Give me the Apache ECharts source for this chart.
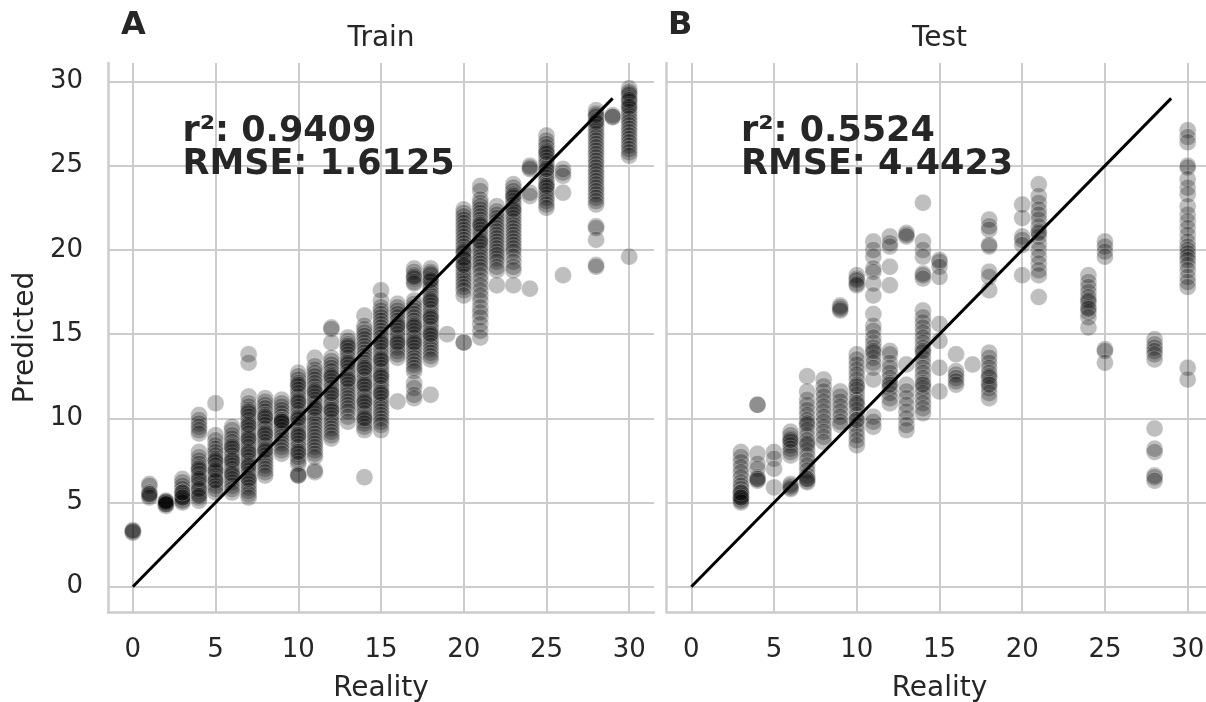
<!DOCTYPE html>
<html>
<head>
<meta charset="utf-8">
<script src="https://cdn.jsdelivr.net/npm/echarts@6/dist/echarts.min.js"></script>
<style>
html, body { margin: 0; padding: 0; background: #fff; }
#chart { width: 1206px; height: 702px; }
</style>
</head>
<body>
<div id="chart"></div>
<script>
// reality values (x) and the predicted values (y)
var trainX = [0, 1, 2, 3, 4, 5, 6, 7, 8, 9, 10, 11, 12, 13, 14, 15, 16, 17, 18, 19, 20, 21, 22, 23, 24, 25, 26, 28, 29, 30];
var trainY = [
  [3.2, 3.25, 3.3, 3.35],
  [6.1, 6.0, 5.6, 5.5, 5.4, 5.3, 5.5],
  [4.8, 4.85, 4.9, 4.9, 4.95, 5.0, 5.0, 5.05, 5.1, 4.9],
  [6.4, 6.2, 6.0, 5.8, 5.6, 5.5, 5.4, 5.3, 5.2, 5.1, 5.0, 5.3, 5.6],
  [10.2, 9.9, 9.7, 9.5, 9.3, 9.1, 8.0, 7.7, 7.5, 7.3, 7.1, 6.9, 6.7, 6.5, 6.3, 6.1, 5.9, 5.7, 5.5, 5.3, 5.1, 7.0, 6.4, 5.8, 5.4],
  [10.9, 9.0, 8.7, 8.4, 8.2, 8.0, 7.8, 7.6, 7.4, 7.2, 7.0, 6.8, 6.6, 6.4, 6.2, 6.0, 5.8, 5.6, 7.5, 6.9, 6.3],
  [9.5, 9.3, 9.0, 8.8, 8.6, 8.4, 8.2, 8.0, 7.8, 7.6, 7.4, 7.2, 7.0, 6.8, 6.6, 6.4, 6.2, 6.0, 5.8, 5.6, 8.3, 7.5, 6.7],
  [13.8, 13.3, 11.3, 10.9, 10.7, 10.5, 10.3, 10.1, 9.9, 9.7, 9.5, 9.3, 9.1, 8.9, 8.7, 8.5, 8.3, 8.1, 7.9, 7.7, 7.5, 7.3, 7.1, 6.9, 6.7, 6.5, 6.3, 6.1, 5.9, 5.7, 5.5, 5.3, 10.4, 9.6, 8.8, 8.0, 7.2, 6.4],
  [11.2, 11.0, 10.8, 10.6, 10.4, 10.2, 10.0, 9.8, 9.6, 9.4, 9.2, 9.0, 8.8, 8.6, 8.4, 8.2, 8.0, 7.8, 7.6, 7.4, 7.2, 7.0, 6.8, 6.6, 10.1, 9.1, 8.1],
  [11.1, 10.9, 10.7, 10.5, 10.3, 10.1, 9.9, 9.8, 9.7, 9.5, 9.3, 9.1, 8.9, 8.7, 8.5, 8.3, 8.1, 7.9, 9.9, 9.8],
  [12.7, 12.5, 12.3, 12.1, 11.9, 11.7, 11.5, 11.3, 11.1, 10.9, 10.7, 10.5, 10.3, 10.1, 9.9, 9.7, 9.5, 9.3, 9.1, 8.9, 8.7, 8.5, 8.3, 8.1, 7.9, 7.7, 7.5, 7.3, 6.7, 6.6, 6.6, 12.0, 11.0, 10.0, 9.0, 8.0],
  [13.6, 13.1, 12.9, 12.7, 12.5, 12.3, 12.1, 11.9, 11.7, 11.5, 11.3, 11.1, 10.9, 10.7, 10.5, 10.3, 10.1, 9.9, 9.7, 9.5, 9.3, 9.1, 8.9, 8.7, 8.5, 8.3, 8.1, 7.9, 7.7, 6.8, 6.9, 11.6, 10.6],
  [15.4, 15.3, 14.5, 13.6, 13.4, 13.2, 13.0, 12.8, 12.6, 12.4, 12.2, 12.0, 11.8, 11.6, 11.4, 11.2, 11.0, 10.8, 10.6, 10.4, 10.2, 10.0, 9.8, 9.6, 9.4, 9.2, 9.0, 8.8, 12.5, 11.5, 10.5],
  [14.8, 14.6, 14.4, 14.2, 14.0, 13.8, 13.6, 13.4, 13.2, 13.0, 12.8, 12.6, 12.4, 12.2, 12.0, 11.8, 11.6, 11.4, 11.2, 11.0, 10.8, 10.6, 10.4, 10.1, 9.8, 14.3, 13.3, 12.3],
  [16.1, 15.5, 15.3, 15.1, 14.9, 14.7, 14.5, 14.3, 14.1, 13.9, 13.7, 13.5, 13.3, 13.1, 12.9, 12.7, 12.5, 12.3, 12.1, 11.9, 11.7, 11.5, 11.3, 11.1, 10.9, 10.7, 10.5, 10.3, 10.1, 9.9, 9.7, 9.5, 9.3, 6.5, 13.0, 12.0, 11.0, 10.0],
  [17.6, 17.0, 16.6, 16.4, 16.2, 16.0, 15.8, 15.6, 15.4, 15.2, 15.0, 14.8, 14.6, 14.4, 14.2, 14.0, 13.8, 13.6, 13.4, 13.2, 13.0, 12.8, 12.6, 12.4, 12.2, 12.0, 11.8, 11.6, 11.4, 11.2, 11.0, 10.8, 10.6, 10.4, 10.2, 10.0, 9.8, 9.6, 9.3, 14.5, 13.5, 12.5, 11.5],
  [16.8, 16.6, 16.4, 16.2, 16.0, 15.8, 15.6, 15.4, 15.2, 15.0, 14.8, 14.6, 14.4, 14.2, 14.0, 13.8, 13.6, 11.0, 15.5, 14.5],
  [18.9, 18.7, 18.5, 18.3, 18.1, 18.0, 17.0, 16.8, 16.6, 16.4, 16.2, 16.0, 15.8, 15.6, 15.4, 15.2, 15.0, 14.8, 14.6, 14.4, 14.2, 14.0, 13.8, 13.6, 13.4, 13.2, 13.0, 12.8, 12.1, 11.8, 11.4, 11.2, 18.4, 15.5, 14.5],
  [18.9, 18.7, 18.5, 18.3, 18.1, 17.9, 17.7, 17.5, 17.3, 17.1, 16.9, 16.7, 16.5, 16.3, 16.1, 15.9, 15.7, 15.5, 15.3, 15.1, 14.9, 14.7, 14.5, 14.3, 14.1, 13.9, 13.7, 13.5, 11.4, 18.6, 18.2, 17.0, 16.0, 15.0],
  [15.0],
  [22.4, 22.2, 22.0, 21.8, 21.6, 21.4, 21.2, 21.0, 20.8, 20.6, 20.4, 20.2, 20.0, 19.8, 19.6, 19.4, 19.2, 19.0, 18.8, 18.6, 18.4, 18.2, 18.0, 17.8, 17.6, 17.3, 19.9, 19.5, 19.1, 14.5, 14.5],
  [23.8, 23.5, 23.0, 22.8, 22.6, 22.4, 22.2, 22.0, 21.8, 21.6, 21.4, 21.2, 21.0, 20.8, 20.6, 20.4, 20.2, 20.0, 19.8, 19.6, 19.4, 19.2, 19.0, 18.8, 18.5, 18.2, 17.9, 17.6, 17.3, 17.0, 16.6, 16.3, 16.0, 15.6, 15.2, 14.8, 21.5, 20.5],
  [22.6, 22.3, 22.1, 21.9, 21.7, 21.5, 21.3, 21.1, 20.9, 20.7, 20.5, 20.3, 20.1, 19.9, 19.7, 19.5, 19.3, 19.0, 18.8, 17.9],
  [23.9, 23.7, 23.5, 23.3, 23.1, 22.9, 22.7, 22.5, 22.3, 22.1, 21.9, 21.7, 21.5, 21.3, 21.1, 20.9, 20.7, 20.5, 20.3, 20.1, 19.9, 19.6, 19.3, 19.0, 18.8, 17.9, 23.2, 22.4],
  [25.0, 24.9, 24.8, 23.4, 23.2, 17.7],
  [26.8, 26.5, 26.3, 26.1, 25.9, 25.7, 25.5, 25.3, 25.1, 24.9, 24.7, 24.5, 24.3, 24.1, 23.9, 23.7, 23.5, 23.3, 23.1, 22.9, 22.7, 22.5, 25.8, 24.8, 23.8],
  [24.8, 24.6, 24.4, 23.4, 18.5],
  [28.3, 28.1, 27.9, 27.7, 27.5, 27.3, 27.1, 26.9, 26.7, 26.5, 26.3, 26.1, 25.9, 25.7, 25.5, 25.3, 25.1, 24.9, 24.7, 24.5, 24.3, 24.1, 23.9, 23.7, 23.5, 23.3, 23.1, 22.9, 22.7, 21.4, 21.3, 20.6, 19.1, 19.0, 28.0, 27.6],
  [27.9, 28.0, 27.9],
  [29.6, 29.4, 29.2, 29.0, 28.8, 28.6, 28.4, 28.2, 28.0, 27.8, 27.6, 27.4, 27.2, 27.0, 26.8, 26.6, 26.4, 26.2, 26.0, 25.8, 25.6, 29.3, 28.9, 28.5, 19.6]
];

var testX = [3, 4, 5, 6, 7, 8, 9, 10, 11, 12, 13, 14, 15, 16, 17, 18, 20, 21, 24, 25, 28, 30];
var testY = [
  [8.0, 7.7, 7.4, 7.1, 6.8, 6.5, 6.2, 6.0, 5.8, 5.6, 5.5, 5.4, 5.3, 5.2, 5.1, 5.0, 5.6, 5.3],
  [10.8, 10.8, 7.9, 7.3, 7.0, 6.5, 6.4, 6.4, 6.3],
  [8.0, 7.6, 7.0, 5.9],
  [9.2, 9.0, 8.8, 8.6, 8.4, 8.2, 8.0, 7.8, 6.1, 6.0, 5.9, 5.8, 8.7],
  [12.5, 11.6, 11.1, 10.8, 10.5, 10.2, 9.9, 9.6, 9.3, 9.0, 8.7, 8.4, 8.1, 7.8, 7.5, 7.2, 6.9, 6.6, 6.4, 6.3, 6.2, 9.7, 8.5, 6.4],
  [12.3, 11.9, 11.6, 11.3, 11.0, 10.7, 10.4, 10.1, 9.8, 9.5, 9.2, 8.9, 8.6],
  [16.7, 16.6, 16.5, 16.4, 11.6, 11.3, 11.0, 10.7, 10.4, 10.1, 9.8, 9.6],
  [18.5, 18.3, 18.2, 18.0, 17.9, 13.8, 13.5, 13.2, 12.9, 12.6, 12.3, 12.0, 11.7, 11.4, 11.1, 10.8, 10.5, 10.2, 9.9, 9.6, 9.3, 9.0, 8.7, 8.4, 11.9, 10.9, 9.9],
  [20.5, 20.0, 19.6, 18.9, 18.7, 18.0, 17.3, 16.2, 15.5, 15.2, 14.8, 14.5, 14.2, 13.9, 13.6, 13.3, 13.0, 12.3, 10.1, 9.8, 9.5, 14.0],
  [20.8, 20.4, 20.2, 19.0, 17.9, 14.0, 13.8, 13.3, 13.0, 12.7, 12.4, 12.1, 11.8, 11.5, 11.2, 10.9, 12.0],
  [21.0, 20.9, 20.8, 13.2, 12.0, 11.6, 11.2, 10.8, 10.4, 10.0, 9.6, 9.3],
  [22.8, 20.5, 20.0, 19.6, 18.6, 18.5, 18.3, 16.4, 16.0, 15.7, 15.4, 15.1, 14.8, 14.5, 14.2, 13.9, 13.6, 13.3, 13.0, 12.7, 12.4, 12.1, 11.8, 11.5, 11.2, 10.9, 10.6, 10.3, 14.0, 12.0],
  [19.4, 19.3, 19.0, 18.4, 15.6, 14.6, 13.0, 11.6],
  [13.8, 12.8, 12.6, 12.4, 12.2, 12.0],
  [13.2],
  [21.8, 21.4, 21.2, 20.2, 20.3, 18.7, 18.4, 17.6, 13.9, 13.6, 13.3, 13.0, 12.7, 12.4, 12.1, 11.8, 11.5, 11.2, 12.5, 12.0],
  [22.7, 21.9, 20.8, 20.6, 20.3, 18.5],
  [23.9, 23.2, 22.8, 22.4, 22.1, 21.8, 21.4, 21.1, 20.8, 20.4, 20.0, 19.6, 19.2, 18.8, 18.5, 17.2, 21.0],
  [18.5, 18.1, 17.8, 17.5, 17.2, 16.9, 16.6, 16.3, 16.0, 15.4, 17.0, 16.5],
  [20.5, 20.2, 19.9, 19.6, 14.1, 14.0, 13.3],
  [14.7, 14.4, 14.2, 14.0, 13.8, 13.5, 9.4, 8.2, 8.0, 6.6, 6.5, 6.3],
  [27.1, 26.7, 26.4, 25.0, 24.9, 24.2, 23.7, 23.3, 22.6, 22.1, 21.7, 21.3, 20.9, 20.5, 20.2, 20.0, 19.8, 19.6, 19.4, 19.1, 18.8, 18.4, 18.1, 17.8, 13.0, 12.3]
];

var diag = [[0, 0], [29, 29]];
var panelTitles = ['Train', 'Test'];
var panelLetters = ['A', 'B'];
var trainStats = ['r²: 0.9409', 'RMSE: 1.6125'];
var testStats = ['r²: 0.5524', 'RMSE: 4.4423'];

function points(xs, ys) {
  var out = [];
  for (var i = 0; i < xs.length; i++) {
    for (var j = 0; j < ys[i].length; j++) out.push([xs[i], ys[i][j]]);
  }
  return out;
}

var FONT = 'DejaVu Sans';
var TXT = '#262626';
var GRID = '#cccccc';

function xAxis(gi) {
  return {
    type: 'value', gridIndex: gi, min: -1.5, max: 31.5, splitNumber: 6,
    name: 'Reality', nameLocation: 'middle', nameGap: 63,
    nameTextStyle: { fontFamily: FONT, fontSize: 28, color: TXT },
    axisLine: { onZero: false, lineStyle: { color: GRID, width: 2.5 } },
    axisTick: { show: false },
    axisLabel: { fontFamily: FONT, fontSize: 26, color: TXT, margin: 25, showMinLabel: false, showMaxLabel: false },
    splitLine: { show: true, showMinLine: false, showMaxLine: false, lineStyle: { color: GRID, width: 2 } }
  };
}
function yAxis(gi) {
  return {
    type: 'value', gridIndex: gi, min: -1.5, max: 31.1, splitNumber: 6,
    name: gi === 0 ? 'Predicted' : '', nameLocation: 'middle', nameGap: 68,
    nameTextStyle: { fontFamily: FONT, fontSize: 28, color: TXT },
    axisLine: { onZero: false, lineStyle: { color: GRID, width: 2.5 } },
    axisTick: { show: false },
    axisLabel: { show: gi === 0, fontFamily: FONT, fontSize: 26, color: TXT, margin: 25, showMinLabel: false, showMaxLabel: false },
    splitLine: { show: true, showMinLine: false, showMaxLine: false, lineStyle: { color: GRID, width: 2 } }
  };
}
function scatter(gi, data) {
  return {
    type: 'scatter', xAxisIndex: gi, yAxisIndex: gi, data: data,
    symbolSize: 17, z: 2, silent: true,
    itemStyle: { color: '#000', opacity: 0.25, borderColor: '#fff', borderWidth: 1 }
  };
}
function line(gi) {
  return {
    type: 'line', xAxisIndex: gi, yAxisIndex: gi, data: diag, showSymbol: false,
    z: 5, silent: true, lineStyle: { color: '#000', width: 3 }
  };
}

var chart = echarts.init(document.getElementById('chart'));
chart.setOption({
  animation: false,
  backgroundColor: '#fff',
  // the right panel runs past the figure edge, as in the original figure
  grid: [
    { left: 108, top: 63, width: 546, height: 549, outerBoundsMode: 'none', containLabel: false },
    { left: 666.5, top: 63, width: 546, height: 549, outerBoundsMode: 'none', containLabel: false }
  ],
  xAxis: [xAxis(0), xAxis(1)],
  yAxis: [yAxis(0), yAxis(1)],
  series: [
    scatter(0, points(trainX, trainY)), line(0),
    scatter(1, points(testX, testY)), line(1)
  ]
});

// titles, panel letters and the metric text, placed from the grid coordinates
var letterX = [121, 668];
var g = [];
[0, 1].forEach(function (gi) {
  var left = chart.convertToPixel({ gridIndex: gi }, [-1.5, 31.1]);
  var right = chart.convertToPixel({ gridIndex: gi }, [31.5, 31.1]);
  var anchor = chart.convertToPixel({ gridIndex: gi }, [3, 28]);
  var stats = gi === 0 ? trainStats : testStats;
  g.push({
    type: 'text', x: (left[0] + right[0]) / 2, y: 39, z: 10,
    style: { text: panelTitles[gi], font: '28px "DejaVu Sans"', fill: TXT, textAlign: 'center', textVerticalAlign: 'middle' }
  });
  g.push({
    type: 'text', x: letterX[gi], y: 26, z: 10,
    style: { text: panelLetters[gi], font: 'bold 32px "DejaVu Sans"', fill: TXT, textAlign: 'left', textVerticalAlign: 'middle' }
  });
  g.push({
    type: 'text', x: anchor[0], y: anchor[1], z: 10,
    style: { text: stats.join('\n'), font: 'bold 35px "DejaVu Sans"', lineHeight: 33, fill: TXT, textAlign: 'left', textVerticalAlign: 'top' }
  });
});
chart.setOption({ graphic: g });
</script>
</body>
</html>
